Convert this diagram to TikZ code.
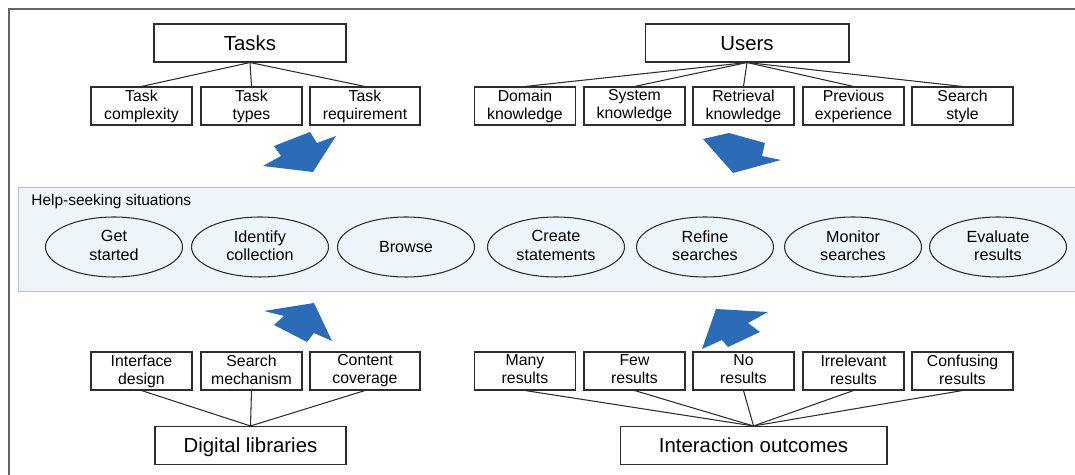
\documentclass[tikz,border=0pt]{standalone}
\usepackage{fontspec}
\setmainfont{Liberation Sans}
\usetikzlibrary{shapes.geometric}
\definecolor{bandfill}{RGB}{236,246,250}
\definecolor{bandline}{RGB}{168,200,218}
\definecolor{arrowblue}{RGB}{44,108,182}
\definecolor{framegray}{RGB}{100,100,100}
\definecolor{linegray}{RGB}{45,45,45}
\newcommand{\hiline}{\rule{0pt}{8.5pt}}
\newcommand{\loline}{\rule[-1.8pt]{0pt}{0pt}}

\begin{document}
\begin{tikzpicture}[x=0.02cm, y=-0.02cm,
        factorbox/.style={draw=linegray, line width=0.6pt, inner sep=0pt, minimum width=2.02cm, minimum height=0.76cm, align=center, font=\fontsize{9}{10.3}\selectfont, execute at begin node=\hiline},
        categorybox/.style={draw=linegray, line width=0.6pt, inner sep=0pt, minimum height=0.76cm, text height=8.4pt, text depth=0pt, font=\fontsize{11.6}{13}\selectfont},
        situation/.style={ellipse, draw=linegray, line width=0.6pt, inner sep=0pt, minimum width=2.74cm, minimum height=1.2cm, align=center, font=\fontsize{9.2}{10.4}\selectfont, execute at begin node=\hiline},
        link/.style={draw=linegray, line width=0.6pt}]
        \useasboundingbox (0,0) rectangle (1075,475);

        % we draw the frame and the band
        \draw[framegray, line width=0.8pt] (1080,9) -- (9,9) -- (9,480);
        \fill[bandfill] (18,187) rectangle (1080,291);
        \draw[bandline, line width=0.5pt] (1080,187) -- (18,187) -- (18,291) -- (1080,291);
        \node[anchor=base west, inner sep=0pt, font=\fontsize{8.8}{10}\selectfont] (hstitle) at (31,206) {Help-seeking situations};

        % we draw tasks and users
        \node[categorybox, minimum width=3.84cm] (tasks) at (250,43) {Tasks};
        \node[factorbox] (tc) at (141.5,106) {Task\\complexity\loline};
        \node[factorbox] (tt) at (251.5,106) {Task\\types\loline};
        \node[factorbox, minimum width=2.2cm] (tr) at (365,106) {Task\\requirement\loline};

        \node[categorybox, minimum width=4.08cm] (users) at (747,43) {Users};
        \node[factorbox] (dk) at (525,106) {Domain\\knowledge\loline};
        \node[factorbox] (sk) at (634.5,106) {System\\knowledge\loline};
        \node[factorbox] (rk) at (743.5,106) {Retrieval\\knowledge\loline};
        \node[factorbox] (pe) at (853.5,106) {Previous\\experience\loline};
        \node[factorbox] (ss) at (962.5,106) {Search\\style\loline};

        \draw[link] (tasks.south) -- (tc.north);
        \draw[link] (tasks.south) -- (tt.north);
        \draw[link] (tasks.south) -- (tr.north);
        \draw[link] (users.south) -- (dk.north);
        \draw[link] (users.south) -- (sk.north);
        \draw[link] (users.south) -- (rk.north);
        \draw[link] (users.south) -- (pe.north);
        \draw[link] (users.south) -- (ss.north);

        % we draw the help-seeking situations
        \node[situation] (gs) at (114,247) {Get\\started\loline};
        \node[situation] (ic) at (260,247) {Identify\\collection\loline};
        \node[situation] (br) at (406,247) {Browse\loline};
        \node[situation] (cs) at (556,247) {Create\\statements\loline};
        \node[situation] (rs) at (705,247) {Refine\\searches\loline};
        \node[situation] (ms) at (853,247) {Monitor\\searches\loline};
        \node[situation] (er) at (998,247) {Evaluate\\results\loline};

        % we draw digital libraries and interaction outcomes
        \node[factorbox] (id) at (141.5,371) {Interface\\design\loline};
        \node[factorbox] (sm) at (251.5,371) {Search\\mechanism\loline};
        \node[factorbox, minimum width=2.2cm] (cc) at (365,371) {Content\\coverage\loline};
        \node[categorybox, minimum width=3.82cm] (dl) at (250.5,445.5) {Digital libraries};

        \node[factorbox] (mr) at (525,371) {Many\\results\loline};
        \node[factorbox] (fr) at (634.5,371) {Few\\results\loline};
        \node[factorbox] (nr) at (743.5,371) {No\\results\loline};
        \node[factorbox] (ir) at (853.5,371) {Irrelevant\\results\loline};
        \node[factorbox] (cr) at (962.5,371) {Confusing\\results\loline};
        \node[categorybox, minimum width=5.34cm] (io) at (753.5,445.5) {Interaction outcomes};

        \draw[link] (id.south) -- (dl.north);
        \draw[link] (sm.south) -- (dl.north);
        \draw[link] (cc.south) -- (dl.north);
        \draw[link] (mr.south) -- (io.north);
        \draw[link] (fr.south) -- (io.north);
        \draw[link] (nr.south) -- (io.north);
        \draw[link] (ir.south) -- (io.north);
        \draw[link] (cr.south) -- (io.north);

        % we add the blue block arrows
        \fill[arrowblue] (263,166) -- (281,156) -- (274,146) -- (310,132) -- (317,143) -- (336,136) -- (313,172) -- cycle;
        \fill[arrowblue] (703,139) -- (729,133) -- (765,143) -- (762,156) -- (781,160) -- (733,173) -- cycle;
        \fill[arrowblue] (264,311) -- (314,303) -- (332,341) -- (314,333) -- (307,342) -- (274,325) -- (284,316) -- cycle;
        \fill[arrowblue] (702,349) -- (716,309) -- (768,312) -- (748,323) -- (760,332) -- (728,347) -- (722,340) -- cycle;
    \end{tikzpicture}
\end{document}
